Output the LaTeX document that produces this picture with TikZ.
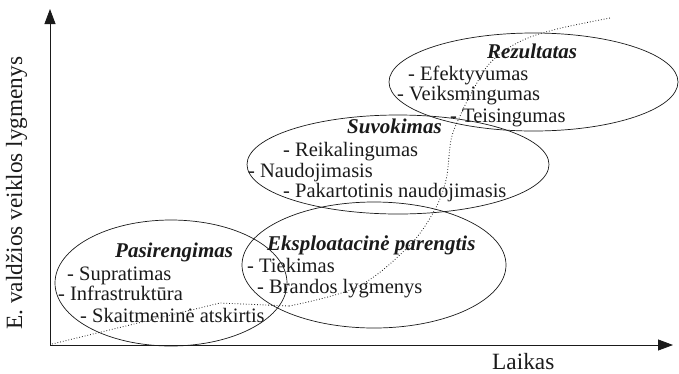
\documentclass[tikz,border=0pt]{standalone}
\usepackage{fontspec}
\setmainfont{Liberation Serif}
\usepackage{tikz}
\usetikzlibrary{arrows.meta,positioning,shapes.geometric}
\definecolor{InkBlack}{HTML}{1A1A1A}
\tikzset{
  phase/.style={ellipse,draw=InkBlack,line width=0.7pt,inner sep=0pt},
  item/.style={anchor=base west,inner sep=0pt,text=InkBlack,font=\fontsize{20.5}{22}\selectfont},
  head/.style={item,font=\fontsize{21}{22}\selectfont\bfseries\itshape},
  axislabel/.style={anchor=base west,inner sep=0pt,text=InkBlack,font=\fontsize{23.3}{25}\selectfont}
}
\begin{document}
\begin{tikzpicture}[x=1pt,y=-1pt]
    \useasboundingbox (0,0) rectangle (679,373);
    % axes
    \coordinate (origin) at (50,345);
    \coordinate (xend) at (673,345);
    \coordinate (yend) at (50,9);
    \draw[InkBlack,line width=0.8pt,-{Triangle[length=15pt,width=11pt]}] (origin) -- (xend);
    \draw[InkBlack,line width=0.8pt,-{Triangle[length=15pt,width=11pt]}] (origin) -- (yend);
    \node[axislabel] (laikas) at (492,369) {Laikas};
    \node[axislabel,rotate=90] (lygmenys) at (22,330) {E. valdžios veiklos lygmenys};
    % phases
    \node[phase,minimum width=232pt,minimum height=126pt] (pasirengimas) at (171,283) {};
    \node[phase,minimum width=264pt,minimum height=126pt] (eksploatacija) at (374,265) {};
    \node[phase,minimum width=302pt,minimum height=99pt] (suvokimas) at (398,164.5) {};
    \node[phase,minimum width=289pt,minimum height=98pt] (rezultatas) at (533.5,82) {};
    % growth curve
    \coordinate (c0) at (52,344);
    \coordinate (c1) at (220,303);
    \coordinate (c2) at (289,306);
    \draw[InkBlack,dotted,line width=0.8pt] (c0) -- (c1) -- (c2);
    \draw[InkBlack,dotted,line width=0.8pt] plot[smooth,tension=0.6] coordinates
      {(289,306) (357,287) (407,248) (433,213) (446,180) (451,140) (460,116)
       (473,90) (490,63) (517,43) (553,30) (610,18)};
    % texts
    \node[head] (pas0) at (115,257) {Pasirengimas};
    \node[item] (pas1) at (67,280) {- Supratimas};
    \node[item] (pas2) at (58,300) {- Infrastruktūra};
    \node[item] (pas3) at (80,322) {- Skaitmeninė atskirtis};
    \node[head] (eks0) at (267,250) {Eksploatacinė parengtis};
    \node[item] (eks1) at (247,272) {- Tiekimas};
    \node[item] (eks2) at (257,293) {- Brandos lygmenys};
    \node[head] (suv0) at (347,133) {Suvokimas};
    \node[item] (suv1) at (283,156) {- Reikalingumas};
    \node[item] (suv2) at (248,177) {- Naudojimasis};
    \node[item] (suv3) at (283,197) {- Pakartotinis naudojimasis};
    \node[head] (rez0) at (487,58) {Rezultatas};
    \node[item] (rez1) at (408,80) {- Efektyvumas};
    \node[item] (rez2) at (397,100) {- Veiksmingumas};
    \node[item] (rez3) at (450,122) {- Teisingumas};
\end{tikzpicture}
\end{document}
